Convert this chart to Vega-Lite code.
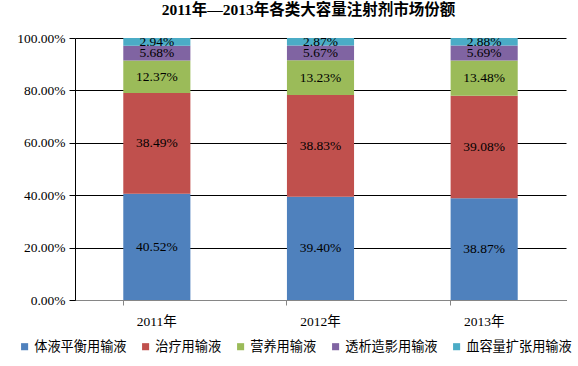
{
  "$schema": "https://vega.github.io/schema/vega-lite/v6.json",
  "width": 491,
  "height": 262,
  "autosize": {"type": "none"},
  "padding": {"left": 75, "top": 38, "right": 12, "bottom": 66},
  "background": "white",
  "title": {
    "text": "2011年—2013年各类大容量注射剂市场份额",
    "font": "Liberation Serif, Noto Sans CJK SC",
    "fontSize": 15.5,
    "fontWeight": "bold",
    "color": "#000000",
    "anchor": "middle",
    "dx": -12,
    "offset": 13
  },
  "config": {
    "view": {"stroke": null},
    "axis": {"labelFont": "Liberation Serif, Noto Sans CJK SC", "labelColor": "#000000", "titleFont": "Liberation Serif"}
  },
  "data": {
    "values": [
      {"year": "2011年", "c": "体液平衡用输液", "v": 40.52},
      {"year": "2011年", "c": "治疗用输液", "v": 38.49},
      {"year": "2011年", "c": "营养用输液", "v": 12.37},
      {"year": "2011年", "c": "透析造影用输液", "v": 5.68},
      {"year": "2011年", "c": "血容量扩张用输液", "v": 2.94},
      {"year": "2012年", "c": "体液平衡用输液", "v": 39.40},
      {"year": "2012年", "c": "治疗用输液", "v": 38.83},
      {"year": "2012年", "c": "营养用输液", "v": 13.23},
      {"year": "2012年", "c": "透析造影用输液", "v": 5.67},
      {"year": "2012年", "c": "血容量扩张用输液", "v": 2.87},
      {"year": "2013年", "c": "体液平衡用输液", "v": 38.87},
      {"year": "2013年", "c": "治疗用输液", "v": 39.08},
      {"year": "2013年", "c": "营养用输液", "v": 13.48},
      {"year": "2013年", "c": "透析造影用输液", "v": 5.69},
      {"year": "2013年", "c": "血容量扩张用输液", "v": 2.88}
    ]
  },
  "transform": [
    {"calculate": "indexof(['体液平衡用输液','治疗用输液','营养用输液','透析造影用输液','血容量扩张用输液'], datum.c)", "as": "k"},
    {"stack": "v", "groupby": ["year"], "sort": [{"field": "k", "order": "ascending"}], "as": ["y0", "y1"]},
    {"calculate": "(datum.y0 + datum.y1) / 2", "as": "ym"},
    {"calculate": "format(datum.v, '.2f') + '%'", "as": "lbl"}
  ],
  "encoding": {
    "x": {
      "field": "year",
      "type": "nominal",
      "title": null,
      "scale": {"paddingInner": 0.59, "paddingOuter": 0.295},
      "axis": {
        "labelAngle": 0,
        "labelFontSize": 13.5,
        "labelPadding": 9,
        "bandPosition": 0,
        "domainColor": "#868686",
        "tickColor": "#868686",
        "tickSize": 5,
        "domainWidth": 1
      }
    }
  },
  "layer": [
    {
      "mark": {"type": "bar", "stroke": null},
      "encoding": {
        "y": {
          "field": "y0",
          "type": "quantitative",
          "scale": {"domain": [0, 100], "nice": false},
          "title": null,
          "axis": {
            "values": [0, 20, 40, 60, 80, 100],
            "labelExpr": "format(datum.value, '.2f') + '%'",
            "labelFontSize": 13.5,
            "labelPadding": 4,
            "tickSize": 6,
            "tickColor": "#000000",
            "domainColor": "#000000",
            "gridColor": "#000000",
            "gridWidth": 1,
            "grid": true
          }
        },
        "y2": {"field": "y1"},
        "color": {
          "field": "c",
          "type": "nominal",
          "scale": {
            "domain": ["体液平衡用输液", "治疗用输液", "营养用输液", "透析造影用输液", "血容量扩张用输液"],
            "range": ["#4F81BD", "#C0504D", "#9BBB59", "#8064A2", "#4BACC6"]
          },
          "legend": {
            "title": null,
            "orient": "none",
            "direction": "horizontal",
            "legendX": -57,
            "legendY": 302,
            "symbolType": "square",
            "symbolSize": 50,
            "symbolStrokeWidth": 0,
            "labelFont": "Noto Sans CJK SC",
            "labelFontSize": 13.2,
            "labelColor": "#000000",
            "labelOffset": 3,
            "columnPadding": 12
          }
        }
      }
    },
    {
      "mark": {"type": "text", "font": "Liberation Serif", "fontSize": 13.5, "color": "#000000"},
      "encoding": {
        "y": {"field": "ym", "type": "quantitative"},
        "text": {"field": "lbl", "type": "nominal"}
      }
    }
  ]
}
